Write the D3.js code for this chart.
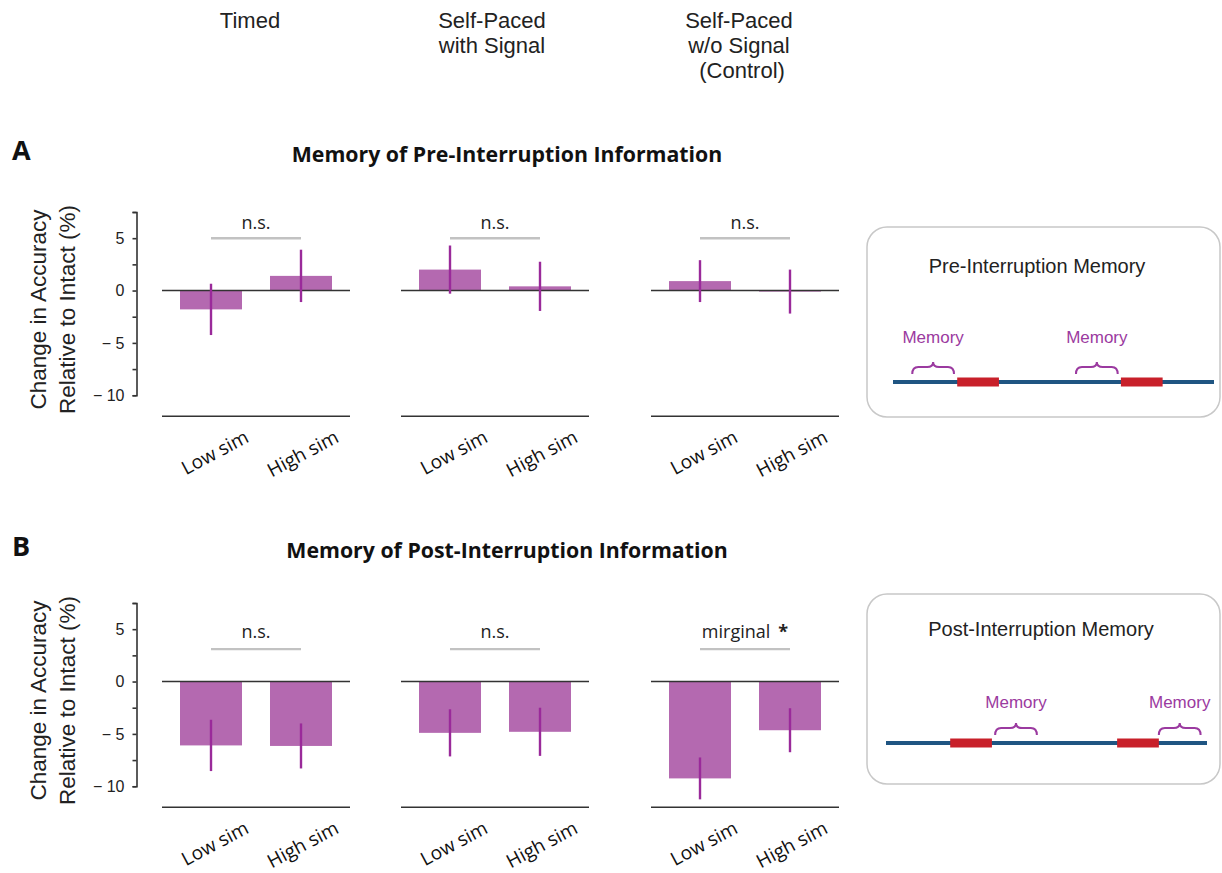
<!DOCTYPE html>
<html>
<head>
<meta charset="utf-8">
<script src="https://cdn.jsdelivr.net/npm/d3@7"></script>
<style>
  html, body { margin: 0; padding: 0; background: #fff; }
  svg { display: block; }
</style>
</head>
<body>
<svg id="fig" width="1222" height="873"></svg>
<script>
// ---- data ----
const conditions = ["Timed", "Self-Paced with Signal", "Self-Paced w/o Signal (Control)"];
const conditionHeaderLines = [["Timed"], ["Self-Paced", "with Signal"], ["Self-Paced", "w/o Signal", " (Control)"]];
const categories = ["Low sim", "High sim"];

// change in accuracy relative to intact (%), one pair [Low sim, High sim] per condition
const preMeans  = [[-1.8, 1.4], [2.0, 0.4], [0.9, -0.1]];
const preErrors = [[2.45, 2.5], [2.3, 2.35], [2.0, 2.1]];
const postMeans  = [[-6.1, -6.15], [-4.9, -4.8], [-9.25, -4.65]];
const postErrors = [[2.45, 2.15], [2.25, 2.3], [2.0, 2.1]];

const preSigLabels  = ["n.s.", "n.s.", "n.s."];
const postSigLabels = ["n.s.", "n.s.", "mirginal *"];
const preSigLevel = 5;
const postSigLevel = 3.1;

const yTickValues = [-10, -7.5, -5, -2.5, 0, 2.5, 5, 7.5];
const yDomain = [-12, 7.5];
const axisDomain = [-10, 7.5];

// timeline schematic: positions along a 0-100 timeline
const preInterruptions  = [[20, 33], [71, 84]];
const preMemorySpans    = [[6, 19], [57, 70]];
const postInterruptions = [[20, 33], [72, 85]];
const postMemorySpans   = [[34, 47], [85, 98]];

// ---- layout ----
const svg = d3.select("#fig");
const panelX = [162, 401, 651];
const panelW = 188;
const axisX = 136.5;
const purple = "#b469b0";
const errColor = "#9a2a9a";
const ink = "#222";
const sansUI = "'Open Sans', 'Noto Sans', sans-serif";
const sansHelv = "'Liberation Sans', Arial, sans-serif";

// column headers
conditionHeaderLines.forEach((lines, i) => {
  const cx = [250, 492, 739][i];
  const t = svg.append("text")
    .attr("x", cx).attr("y", 28)
    .attr("text-anchor", "middle")
    .attr("font-family", sansHelv).attr("font-size", 22).attr("fill", ink)
    .style("white-space", "pre");
  lines.forEach((ln, j) => {
    t.append("tspan").attr("x", cx).attr("y", 28 + j * 25).text(ln);
  });
});

const rows = [
  { letter: "A", title: "Memory of Pre-Interruption Information", top: 212, letterY: 160, titleY: 162,
    means: preMeans, errors: preErrors, sig: preSigLabels, sigLevel: preSigLevel, sigGap: 9 },
  { letter: "B", title: "Memory of Post-Interruption Information", top: 603, letterY: 556, titleY: 558,
    means: postMeans, errors: postErrors, sig: postSigLabels, sigLevel: postSigLevel, sigGap: 11 }
];

const band = d3.scaleBand().domain(categories).range([0, panelW]).paddingInner(0.311).paddingOuter(0.2);

rows.forEach(row => {
  const y = d3.scaleLinear().domain(yDomain).range([row.top + 204.2, row.top]);

  svg.append("text").attr("x", 12).attr("y", row.letterY)
    .attr("font-family", sansUI).attr("font-weight", 700).attr("font-size", 27).attr("fill", "#111")
    .text(row.letter);
  svg.append("text").attr("x", 507).attr("y", row.titleY).attr("text-anchor", "middle")
    .attr("font-family", sansUI).attr("font-weight", 700).attr("font-size", 21.3).attr("fill", "#111")
    .text(row.title);

  // y axis
  const yAxisScale = y.copy().domain(axisDomain).range([y(axisDomain[0]), y(axisDomain[1])]);
  const ax = svg.append("g").attr("transform", `translate(${axisX},0)`)
    .call(d3.axisLeft(yAxisScale).tickValues(yTickValues).tickSizeOuter(0).tickSize(4).tickPadding(8)
      .tickFormat(d => d % 5 !== 0 ? "" : (d < 0 ? "\u2212 " + Math.abs(d) : String(d))));
  ax.select(".domain").attr("stroke", "#333").attr("stroke-width", 1.6);
  ax.selectAll(".tick line").attr("stroke", "#333").attr("stroke-width", 1.6);
  ax.selectAll(".tick text").attr("font-family", sansHelv).attr("font-size", 16).attr("fill", ink)
    .style("white-space", "pre");

  // y axis title
  const cy = y(0) + 19;
  const lbl = svg.append("text").attr("transform", `translate(0,${cy}) rotate(-90)`)
    .attr("text-anchor", "middle").attr("font-family", sansHelv).attr("font-size", 22.5).attr("fill", ink);
  lbl.append("tspan").attr("x", 0).attr("y", 46).text("Change in Accuracy");
  lbl.append("tspan").attr("x", 0).attr("y", 75).text("Relative to Intact (%)");

  row.means.forEach((pair, i) => {
    const g = svg.append("g").attr("transform", `translate(${panelX[i]},0)`);
    const data = categories.map((c, k) => ({ c, v: pair[k], e: row.errors[i][k] }));

    g.selectAll("rect.bar").data(data).join("rect").attr("class", "bar")
      .attr("x", d => band(d.c)).attr("width", band.bandwidth())
      .attr("y", d => y(Math.max(0, d.v))).attr("height", d => Math.abs(y(d.v) - y(0)))
      .attr("fill", purple);

    // zero line and bottom baseline
    g.append("line").attr("x1", 0).attr("x2", panelW).attr("y1", y(0)).attr("y2", y(0))
      .attr("stroke", "#333").attr("stroke-width", 1.6);
    g.append("line").attr("x1", 0).attr("x2", panelW).attr("y1", y(-12)).attr("y2", y(-12))
      .attr("stroke", "#333").attr("stroke-width", 1.6);

    g.selectAll("line.err").data(data).join("line").attr("class", "err")
      .attr("x1", d => band(d.c) + band.bandwidth() / 2).attr("x2", d => band(d.c) + band.bandwidth() / 2)
      .attr("y1", d => y(d.v + d.e)).attr("y2", d => y(d.v - d.e))
      .attr("stroke", errColor).attr("stroke-width", 2.4);

    // significance bracket
    const c0 = band(categories[0]) + band.bandwidth() / 2;
    const c1 = band(categories[1]) + band.bandwidth() / 2;
    g.append("line").attr("x1", c0).attr("x2", c1)
      .attr("y1", y(row.sigLevel)).attr("y2", y(row.sigLevel))
      .attr("stroke", "#c2c2c2").attr("stroke-width", 2.4);
    const label = row.sig[i];
    const st = g.append("text").attr("x", (c0 + c1) / 2).attr("y", y(row.sigLevel) - row.sigGap)
      .attr("text-anchor", "middle").attr("font-family", sansUI).attr("font-size", 18).attr("fill", ink);
    if (label.endsWith("*")) {
      st.append("tspan").text(label.slice(0, -1).trim());
      st.append("tspan").attr("dx", 8).attr("font-weight", 700).text("*");
    } else {
      st.text(label);
    }

    // category labels
    g.selectAll("text.cat").data(data).join("text").attr("class", "cat")
      .attr("transform", d => `translate(${band(d.c) + band.bandwidth() / 2 + 39},${y(-12) + 25}) rotate(-28)`)
      .attr("text-anchor", "end").attr("font-family", sansUI).attr("font-size", 19).attr("fill", "#111")
      .text(d => d.c);
  });
});

// timeline schematics
function brace(x0, x1, yb) {
  const xm = (x0 + x1) / 2, ym = yb - 7, yt = yb - 12, r = 6;
  return `M${x0},${yb} Q${x0},${ym} ${x0 + r},${ym} L${xm - r},${ym} Q${xm},${ym} ${xm},${yt} ` +
         `Q${xm},${ym} ${xm + r},${ym} L${x1 - r},${ym} Q${x1},${ym} ${x1},${yb}`;
}

const schematics = [
  { title: "Pre-Interruption Memory", box: [867, 227, 353, 190], titleX: 1037, titleY: 273,
    line: [893, 1214], lineY: 382, ints: preInterruptions, mems: preMemorySpans, memY: 343 },
  { title: "Post-Interruption Memory", box: [867, 594, 353, 190], titleX: 1041, titleY: 636,
    line: [886, 1207], lineY: 743, ints: postInterruptions, mems: postMemorySpans, memY: 708 }
];

schematics.forEach(s => {
  const [bx, by, bw, bh] = s.box;
  svg.append("rect").attr("x", bx).attr("y", by).attr("width", bw).attr("height", bh)
    .attr("rx", 20).attr("fill", "#fff").attr("stroke", "#c8c8c8").attr("stroke-width", 1.5);
  svg.append("text").attr("x", s.titleX).attr("y", s.titleY).attr("text-anchor", "middle")
    .attr("font-family", sansHelv).attr("font-size", 20).attr("fill", ink).text(s.title);

  const t = d3.scaleLinear().domain([0, 100]).range(s.line);
  svg.append("line").attr("x1", t(0)).attr("x2", t(100)).attr("y1", s.lineY).attr("y2", s.lineY)
    .attr("stroke", "#1f5582").attr("stroke-width", 4);
  svg.selectAll(null).data(s.ints).join("rect")
    .attr("x", d => t(d[0])).attr("width", d => t(d[1]) - t(d[0]))
    .attr("y", s.lineY - 4.5).attr("height", 9).attr("fill", "#c8202a");
  svg.selectAll(null).data(s.mems).join("path")
    .attr("d", d => brace(t(d[0]), t(d[1]), s.lineY - 8))
    .attr("fill", "none").attr("stroke", "#9b3aa0").attr("stroke-width", 2);
  svg.selectAll(null).data(s.mems).join("text")
    .attr("x", d => (t(d[0]) + t(d[1])) / 2).attr("y", s.memY).attr("text-anchor", "middle")
    .attr("font-family", sansHelv).attr("font-size", 17).attr("fill", "#9b3aa0").text("Memory");
});
</script>
</body>
</html>
